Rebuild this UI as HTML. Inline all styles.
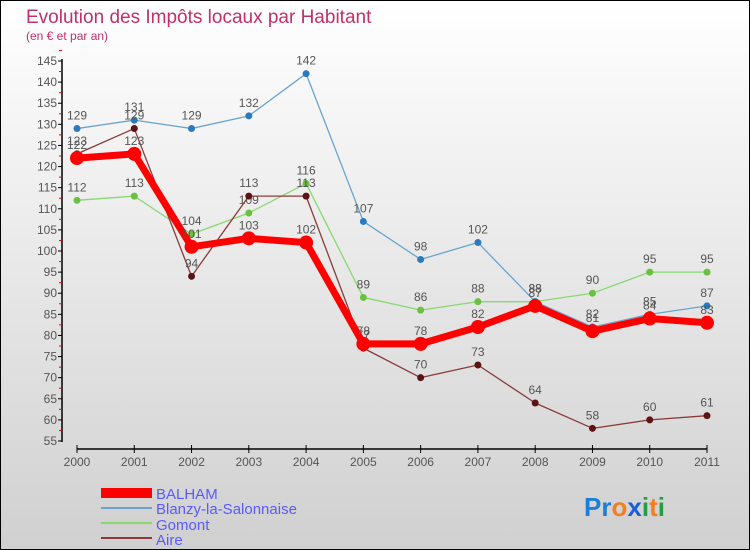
<!DOCTYPE html>
<html><head><meta charset="utf-8"><style>
body{margin:0;}
#c{width:748px;height:548px;border:1px solid #000;background:linear-gradient(#fff,#d0d0d0);position:relative;overflow:hidden;font-family:"Liberation Sans",sans-serif;}
</style></head><body>
<div id="c">
<svg id="s" width="748" height="548" xmlns="http://www.w3.org/2000/svg">
<text x="25" y="22" font-size="19" fill="#c0306a">Evolution des Impôts locaux par Habitant</text>
<text x="25" y="39" font-size="12" fill="#c0306a">(en € et par an)</text>
<g id="axes"></g><g id="series"></g>
<g font-size="15" fill="#5a5aff">
<rect x="100" y="487" width="51" height="10" fill="#f00"/>
<text x="155" y="498">BALHAM</text>
<line x1="100" y1="507" x2="151" y2="507" stroke="#6aa4cc" stroke-width="2"/>
<text x="155" y="513">Blanzy-la-Salonnaise</text>
<line x1="100" y1="522" x2="151" y2="522" stroke="#88d870" stroke-width="2"/>
<text x="155" y="529">Gomont</text>
<line x1="100" y1="537" x2="151" y2="537" stroke="#8b3a3a" stroke-width="2"/>
<text x="155" y="544">Aire</text>
</g>
<g font-size="26" font-weight="bold">
<text x="583" y="515"><tspan fill="#1a7fd8">Pr</tspan><tspan fill="#f08020">o</tspan><tspan fill="#1a5fd8">x</tspan><tspan fill="#20a040">i</tspan><tspan fill="#f08020">t</tspan><tspan fill="#20a040">i</tspan></text>
</g>
</svg>
</div>
<script>
const years=[2000,2001,2002,2003,2004,2005,2006,2007,2008,2009,2010,2011];
const yTicks=[55,60,65,70,75,80,85,90,95,100,105,110,115,120,125,130,135,140,145];
const balham=[122,123,101,103,102,78,78,82,87,81,84,83];
const blanzy=[129,131,129,132,142,107,98,102,88,82,85,87];
const gomont=[112,113,104,109,116,89,86,88,88,90,95,95];
const aire=[123,129,94,113,113,77,70,73,64,58,60,61];
const NS="http://www.w3.org/2000/svg";
function X(i){return 76+i*(706-76)/11;}
function Y(v){return 60+(145-v)*380/90;}
function mk(t,a,p){const e=document.createElementNS(NS,t);for(const k in a)e.setAttribute(k,a[k]);p.appendChild(e);return e;}
const ax=document.getElementById('axes');
const yl=mk('line',{x1:61,y1:58,x2:61,y2:441,stroke:'#000','stroke-width':1.5},ax);


yTicks.forEach(v=>{
 mk('line',{x1:57,y1:Y(v),x2:61,y2:Y(v),stroke:'#000'},ax);
 mk('line',{x1:58,y1:Y(v+2.5),x2:61,y2:Y(v+2.5),stroke:'#e00'},ax);
 const t=mk('text',{x:56,y:Y(v)+4,'text-anchor':'end','font-size':12,fill:'#555'},ax);
 t.textContent=v;
 
 
});
const xl=mk('line',{x1:76,y1:448,x2:706,y2:448,stroke:'#000','stroke-width':1.5},ax);


years.forEach((y,i)=>{
 mk('line',{x1:X(i),y1:444,x2:X(i),y2:452,stroke:'#000'},ax);
 const t=mk('text',{x:X(i),y:465,'text-anchor':'middle','font-size':12,fill:'#555'},ax);
 t.textContent=y;
 
 
});
const sg=document.getElementById('series');
function draw(data,name,color,w,r,dot){
 const g=mk('g',{},sg);
 
 
 mk('polyline',{points:data.map((v,i)=>X(i)+','+Y(v)).join(' '),fill:'none',stroke:color,'stroke-width':w,'stroke-linejoin':'round'},g);
 data.forEach((v,i)=>{
  const c=mk('circle',{cx:X(i),cy:Y(v),r:r,fill:dot},g);
  
  
  const t=mk('text',{x:X(i),y:Y(v)-9,'text-anchor':'middle','font-size':12,fill:'#555'},g);
  t.textContent=v;
  
  
 });
}
draw(gomont,'gomont','#88d870',1.3,3.5,'#6cc040');
draw(blanzy,'blanzy','#6aa4cc',1.3,3.5,'#2a7ac0');
draw(aire,'aire','#8b3a3a',1.3,3.5,'#5a1414');
draw(balham,'balham','#f00',7,7,'#f00');
</script>
</body></html>
